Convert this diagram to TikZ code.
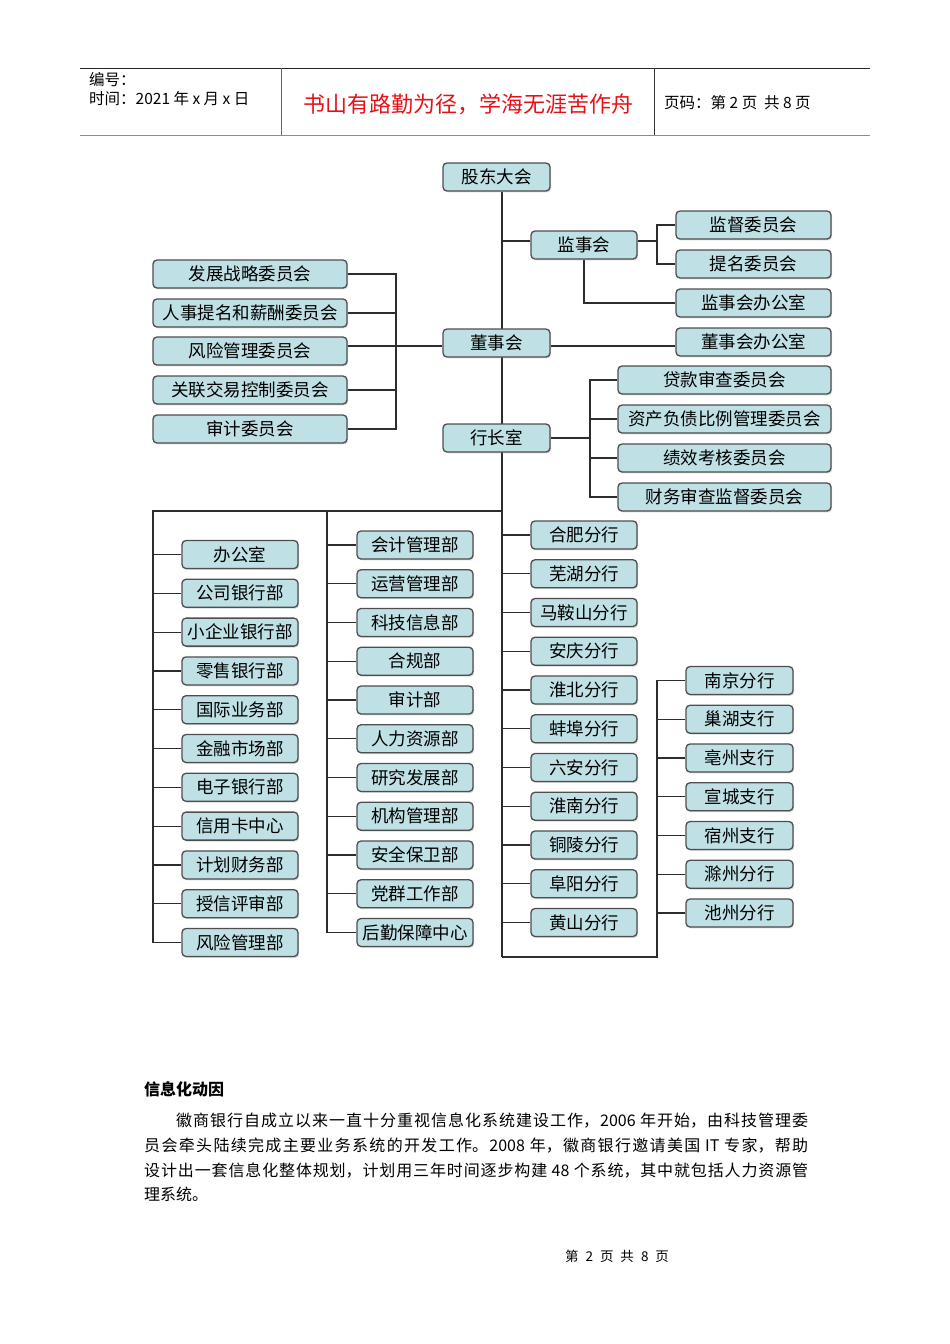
\documentclass[tikz,border=0pt]{standalone}
\usepackage{fontspec}
\setmainfont{Noto Sans CJK SC}
\usetikzlibrary{calc,shadows,backgrounds}
\definecolor{boxfill}{RGB}{191,224,228}
\definecolor{boxline}{RGB}{78,78,78}
\definecolor{wirec}{RGB}{45,45,45}
\definecolor{headred}{RGB}{228,18,24}
\XeTeXlinebreaklocale "zh"
\XeTeXlinebreakskip=0pt plus 2pt
\begin{document}
\begin{tikzpicture}[x=1pt,y=-1pt,
  box/.style={draw=boxline, line width=1.3pt, fill=boxfill, rounded corners=4pt,
    minimum height=28pt, inner sep=0pt, font=\fontsize{17.5}{18}\selectfont,
    drop shadow={shadow xshift=1.2pt, shadow yshift=-1.4pt, opacity=0.3}},
  wire/.style={draw=wirec, line width=1.2pt},
  hdr/.style={anchor=west, inner sep=0pt, font=\fontsize{15.5}{16}\selectfont}
]
\useasboundingbox (0,0) rectangle (950,1344);

% ---------- header ----------
\draw[line width=0.9pt, black!85] (80,68) -- (870,68);
\draw[line width=1.6pt, black!45] (80,135.5) -- (870,135.5);
\draw[line width=0.9pt, black!60] (281,68) -- (281,135);
\draw[line width=0.9pt, black!80] (654,68) -- (654,135);
\node[hdr] (h1) at (89,80) {编号：};
\node[hdr] (h2) at (89,99) {时间：2021 年 x 月 x 日};
\node[inner sep=0pt, text=headred, font=\fontsize{22}{22}\selectfont] (h3) at (468,104) {书山有路勤为径，学海无涯苦作舟};
\node[hdr] (h4) at (664,103) {页码：第 2 页\ \ 共 8 页};

% ---------- top part ----------
\node[box, minimum width=107pt] (gd)  at (496.5,177) {股东大会};
\node[box, minimum width=107pt] (dsh) at (496.5,343) {董事会};
\node[box, minimum width=107pt] (hzs) at (496.5,438) {行长室};
\node[box, minimum width=106pt] (jsh) at (584,245) {监事会};
\node[box, minimum width=155pt] (jd)  at (753.5,225) {监督委员会};
\node[box, minimum width=155pt] (tm)  at (753.5,264) {提名委员会};
\node[box, minimum width=155pt] (jsb) at (753.5,303) {监事会办公室};
\node[box, minimum width=155pt] (dsb) at (753.5,342) {董事会办公室};
\foreach \t/\y/\n in {贷款审查委员会/380/hz1, 资产负债比例管理委员会/419/hz2, 绩效考核委员会/458/hz3, 财务审查监督委员会/497/hz4}
  \node[box, minimum width=213pt] (\n) at (724.5,\y) {\t};
\foreach \t/\y/\n in {发展战略委员会/274/c1, 人事提名和薪酬委员会/313/c2, 风险管理委员会/351/c3, 关联交易控制委员会/390/c4, 审计委员会/429/c5}
  \node[box, minimum width=194pt] (\n) at (250,\y) {\t};

% ---------- bottom columns ----------
\foreach \t [count=\i] in {办公室,公司银行部,小企业银行部,零售银行部,国际业务部,金融市场部,电子银行部,信用卡中心,计划财务部,授信评审部,风险管理部}
  \node[box, minimum width=116pt] (L\i) at (240,{554.5+38.8*(\i-1)}) {\t};
\foreach \t [count=\i] in {会计管理部,运营管理部,科技信息部,合规部,审计部,人力资源部,研究发展部,机构管理部,安全保卫部,党群工作部,后勤保障中心}
  \node[box, minimum width=116pt] (M\i) at (415,{545+38.75*(\i-1)}) {\t};
\foreach \t [count=\i] in {合肥分行,芜湖分行,马鞍山分行,安庆分行,淮北分行,蚌埠分行,六安分行,淮南分行,铜陵分行,阜阳分行,黄山分行}
  \node[box, minimum width=106pt] (R\i) at (584,{535+38.75*(\i-1)}) {\t};
\foreach \t [count=\i] in {南京分行,巢湖支行,亳州支行,宣城支行,宿州支行,滁州分行,池州分行}
  \node[box, minimum width=107pt] (F\i) at (739.5,{680.5+38.75*(\i-1)}) {\t};

% ---------- coordinates of buses ----------
\coordinate (trunkbot) at (502,957);
\coordinate (jrow) at (502,241);
\coordinate (jb1) at (657,225);
\coordinate (jb2) at (657,264);
\coordinate (drow) at (396,346);
\coordinate (lb1) at (396,274);
\coordinate (lb5) at (396,429);
\coordinate (hb1) at (590,380);
\coordinate (hb4) at (590,497);
\coordinate (tb) at (502,511);
\coordinate (lbt) at (153,511);
\coordinate (mbt) at (327,511);
\coordinate (fb) at (657,957);

% ---------- connectors (behind boxes) ----------
\begin{scope}[on background layer]
  \draw[wire] (gd.south -| trunkbot) -- (trunkbot);
  % supervisory board
  \draw[wire] (jrow) -- (jrow -| jsh.west);
  \draw[wire] (jsh.east |- jrow) -- (jrow -| jb1);
  \draw[wire] (jd.west) -- (jb1) -- (jb2) -- (tm.west);
  \draw[wire] (jsh.south) |- (jsb.west);
  % board of directors
  \draw[wire] (c3.east |- drow) -- (dsh.west |- drow);
  \draw[wire] (dsh.east |- drow) -- (dsb.west |- drow);
  \draw[wire] (c1.east) -- (lb1) -- (lb5) -- (c5.east);
  \draw[wire] (c2.east) -- (c2.east -| lb1);
  \draw[wire] (c4.east) -- (c4.east -| lb1);
  % president office
  \draw[wire] (hzs.east) -- (hzs.east -| hb1);
  \draw[wire] (hz1.west) -- (hb1) -- (hb4) -- (hz4.west);
  \draw[wire] (hz2.west) -- (hz2.west -| hb1);
  \draw[wire] (hz3.west) -- (hz3.west -| hb1);
  % departments
  \draw[wire] (tb) -- (lbt) -- (lbt |- L11.west) -- (L11.west);
  \foreach \i in {1,...,10} \draw[wire] (L\i.west -| lbt) -- (L\i.west);
  \draw[wire] (mbt) -- (mbt |- M11.west) -- (M11.west);
  \foreach \i in {1,...,10} \draw[wire] (M\i.west -| mbt) -- (M\i.west);
  \foreach \i in {1,...,11} \draw[wire] (R\i.west -| tb) -- (R\i.west);
  \draw[wire] (trunkbot) -- (fb) -- (fb |- F1.west) -- (F1.west);
  \foreach \i in {2,...,7} \draw[wire] (F\i.west -| fb) -- (F\i.west);
\end{scope}

% ---------- text ----------
\node[anchor=west, inner sep=0pt, font=\fontsize{16}{16}\selectfont\bfseries] (t1) at (144,1089) {信息化动因};
\node[anchor=north west, inner sep=0pt, text width=664pt, align=justify,
      font=\fontsize{16}{24.7}\selectfont] (t2) at (144,1113)
 {\hspace*{2em}徽商银行自成立以来一直十分重视信息化系统建设工作，2006 年开始，由科技管理委\linebreak
  员会牵头陆续完成主要业务系统的开发工作。2008 年，徽商银行邀请美国 IT 专家，帮助\linebreak
  设计出一套信息化整体规划，计划用三年时间逐步构建 48 个系统，其中就包括人力资源管\linebreak
  理系统。};
\node[inner sep=0pt, font=\fontsize{13.5}{14}\selectfont] (t3) at (617,1256)
 {第\hspace{7pt}2\hspace{7pt}页\hspace{7pt}共\hspace{7pt}8\hspace{7pt}页};
\end{tikzpicture}
\end{document}
